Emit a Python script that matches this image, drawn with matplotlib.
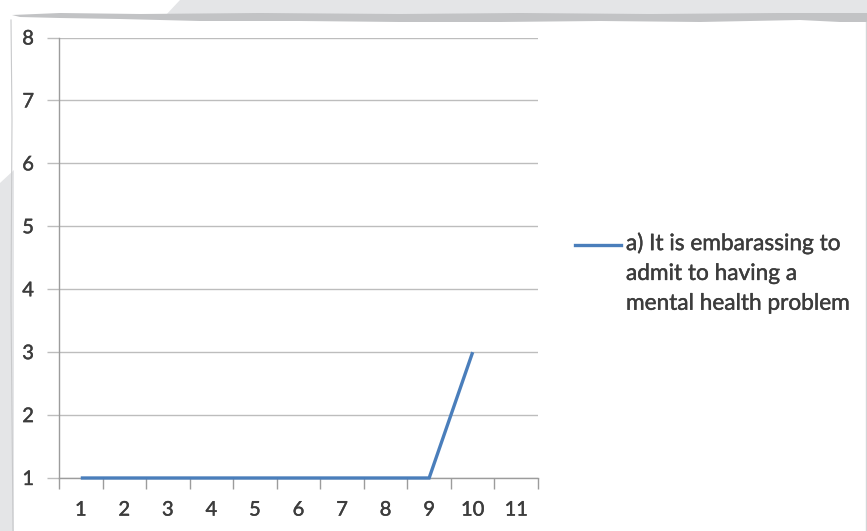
import matplotlib
matplotlib.use("Agg")
import matplotlib.pyplot as plt
import matplotlib.patheffects as pe
from matplotlib.patches import Polygon
from matplotlib.lines import Line2D

# Data
categories = list(range(1, 12))
x_points = [1, 2, 3, 4, 5, 6, 7, 8, 9, 10]
y_values = [1, 1, 1, 1, 1, 1, 1, 1, 1, 3]
y_ticks = [1, 2, 3, 4, 5, 6, 7, 8]
series_label = "a) It is embarassing to\nadmit to having a\nmental health problem"

W, H = 867, 531
plt.rcParams['font.family'] = ['Lato', 'DejaVu Sans']

fig = plt.figure(figsize=(W / 100, H / 100), dpi=100)
fig.patch.set_facecolor("white")


def px(x, y):
    return (x / W, 1 - y / H)


# Paper-style frame around the chart
top_band = [(180, 0), (W, 0), (W, 16), (165, 16)]
fig.add_artist(Polygon([px(*p) for p in top_band], closed=True,
                       facecolor="#e4e5e7", edgecolor="none",
                       transform=fig.transFigure, zorder=0))
torn_edge = [(12, 15), (60, 13), (140, 14), (260, 13), (400, 14), (520, 13),
             (650, 14), (780, 13), (W, 13), (W, 22), (840, 22), (800, 20),
             (700, 22), (600, 21), (500, 22), (400, 22), (300, 21), (200, 21),
             (120, 19), (60, 18), (20, 17)]
fig.add_artist(Polygon([px(*p) for p in torn_edge], closed=True,
                       facecolor="#c2c3c5", edgecolor="none",
                       transform=fig.transFigure, zorder=0))
left_strip = [(0, 183), (14, 170), (14, H), (0, H)]
fig.add_artist(Polygon([px(*p) for p in left_strip], closed=True,
                       facecolor="#e4e5e7", edgecolor="none",
                       transform=fig.transFigure, zorder=0))
fig.add_artist(Line2D([11 / W, 12 / W, 11 / W, 13 / W],
                      [1 - 20 / H, 1 - 120 / H, 1 - 300 / H, 1 - 1.0],
                      color="#c8c9cb", lw=0.8, transform=fig.transFigure, zorder=0))
fig.add_artist(Line2D([865.5 / W, 865.5 / W], [0, 1 - 22 / H],
                      color="#d4d5d7", lw=1.0, transform=fig.transFigure, zorder=0))

# Plot area
left, right = 59 / W, 538 / W
top, bottom = 1 - 37.5 / H, 1 - 478 / H
ax = fig.add_axes([left, bottom, right - left, top - bottom])
ax.set_facecolor("none")

line_color = "#4a7ebb"
ax.plot(x_points, y_values, color=line_color, lw=2.4,
        solid_capstyle="butt", solid_joinstyle="miter", zorder=3, clip_on=False)

ax.set_xlim(0.5, 11.5)
ax.set_ylim(1, 8)

grid_color = "#bdbdbd"
axis_color = "#9c9c9c"
text_color = "#3c3c3c"
tick_font = 14.5
bolden = [pe.withStroke(linewidth=0.3, foreground=text_color)]

ax.set_yticks(y_ticks)
ax.set_yticklabels([str(v) for v in y_ticks])
ax.yaxis.grid(True, color=grid_color, lw=1.0)
ax.set_axisbelow(True)

ax.set_xticks(categories)
ax.set_xticklabels([str(c) for c in categories])
ax.set_xticks([c + 0.5 for c in [0] + categories], minor=True)

ax.tick_params(axis="y", length=9, width=1.0, color=grid_color,
               labelsize=tick_font, labelcolor=text_color, pad=9)
ax.tick_params(axis="x", which="major", length=0, labelsize=tick_font,
               labelcolor=text_color, pad=17)
ax.tick_params(axis="x", which="minor", length=8, width=1.0, color=axis_color)
for lab in ax.get_xticklabels() + ax.get_yticklabels():
    lab.set_path_effects(bolden)

for side in ("top", "right"):
    ax.spines[side].set_visible(False)
ax.spines["left"].set_color(axis_color)
ax.spines["bottom"].set_color(axis_color)
ax.spines["left"].set_linewidth(1.0)
ax.spines["bottom"].set_linewidth(1.0)

# Legend entry
fig.add_artist(Line2D([575 / W, 621 / W], [1 - 245 / H, 1 - 245 / H],
                      color=line_color, lw=2.4, transform=fig.transFigure))
fig.text(626 / W, 1 - 232 / H, series_label, fontsize=16.3, color=text_color,
         va="top", ha="left", linespacing=1.52, path_effects=bolden)

fig.savefig("out.png", dpi=100)
